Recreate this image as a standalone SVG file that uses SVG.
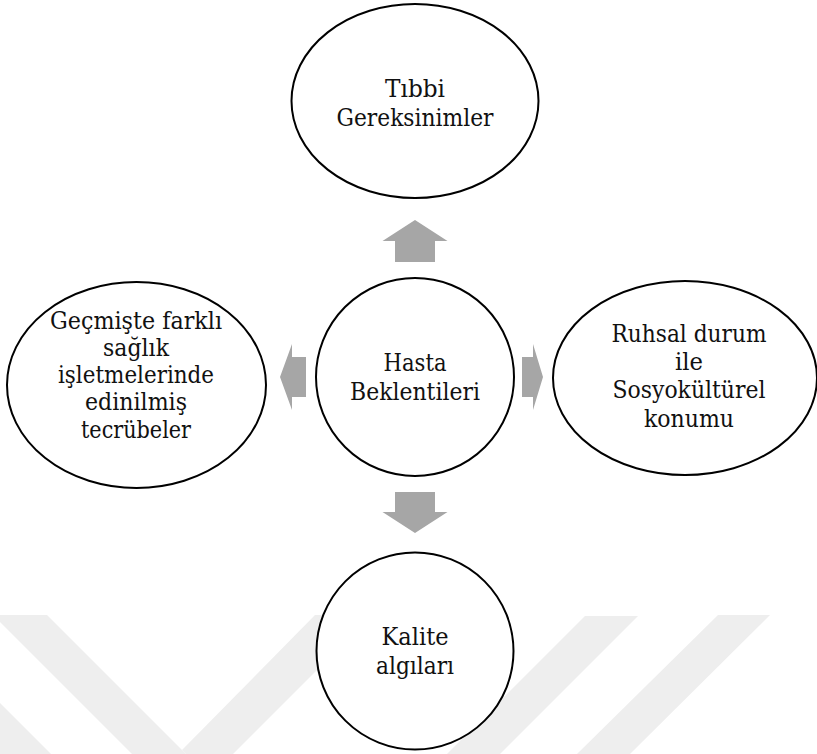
<svg xmlns="http://www.w3.org/2000/svg" width="817" height="754" viewBox="0 0 817 754">
  <style>
    .node { fill: #ffffff; stroke: #000000; stroke-width: 2; }
    .arrow { fill: #a6a6a6; stroke: none; }
    .mark { fill: #eeeeee; stroke: none; }
    .label { font-family: "DejaVu Serif", "Liberation Serif", serif; font-size: 25px; fill: #111111; text-anchor: middle; }
  </style>
  <rect x="0" y="0" width="817" height="754" fill="#ffffff"/>

  <!-- faint background logo bands -->
  <g id="background-mark">
    <polygon class="mark" points="0,615 47,615 182,750 186,754 132,754 0,622"/>
    <polygon class="mark" points="182,750 315,615 372,615 233,754 186,754"/>
    <polygon class="mark" points="0,703 51,754 0,754"/>
    <polygon class="mark" points="585,616 638,616 500,754 447,754"/>
    <polygon class="mark" points="718,615 770,615 630,754 577,754"/>
  </g>

  <!-- block arrows from the centre -->
  <g id="connectors">
    <polygon class="arrow" points="415,220 447.5,241 435,241 435,262 395,262 395,241 382.5,241"/>
    <polygon class="arrow" points="395,492 435,492 435,512 447.5,512 415,533 382.5,512 395,512"/>
    <polygon class="arrow" points="280,377 292,344 292,357 306,357 306,397 292,397 292,410"/>
    <polygon class="arrow" points="543,377 533,344 533,357 522,357 522,397 533,397 533,410"/>
  </g>

  <g id="node-top">
    <ellipse class="node" cx="415" cy="101" rx="123.5" ry="97"/>
    <text class="label" x="415" y="97" textLength="60" lengthAdjust="spacingAndGlyphs">Tıbbi</text>
    <text class="label" x="415" y="126" textLength="157" lengthAdjust="spacingAndGlyphs">Gereksinimler</text>
  </g>

  <g id="node-center">
    <circle class="node" cx="415" cy="377" r="99"/>
    <text class="label" x="415" y="371" textLength="63" lengthAdjust="spacingAndGlyphs">Hasta</text>
    <text class="label" x="415" y="400" textLength="130" lengthAdjust="spacingAndGlyphs">Beklentileri</text>
  </g>

  <g id="node-left">
    <ellipse class="node" cx="136.5" cy="385" rx="129.5" ry="103"/>
    <text class="label" x="136" y="329" textLength="172" lengthAdjust="spacingAndGlyphs">Geçmişte farklı</text>
    <text class="label" x="136" y="356" textLength="66" lengthAdjust="spacingAndGlyphs">sağlık</text>
    <text class="label" x="136" y="383" textLength="156" lengthAdjust="spacingAndGlyphs">işletmelerinde</text>
    <text class="label" x="136" y="410" textLength="102" lengthAdjust="spacingAndGlyphs">edinilmiş</text>
    <text class="label" x="136" y="438" textLength="110" lengthAdjust="spacingAndGlyphs">tecrübeler</text>
  </g>

  <g id="node-right">
    <ellipse class="node" cx="685" cy="378" rx="132" ry="97"/>
    <text class="label" x="689" y="342" textLength="155" lengthAdjust="spacingAndGlyphs">Ruhsal durum</text>
    <text class="label" x="689" y="370" textLength="28" lengthAdjust="spacingAndGlyphs">ile</text>
    <text class="label" x="689" y="398" textLength="153" lengthAdjust="spacingAndGlyphs">Sosyokültürel</text>
    <text class="label" x="689" y="427" textLength="90" lengthAdjust="spacingAndGlyphs">konumu</text>
  </g>

  <g id="node-bottom">
    <circle class="node" cx="415" cy="651" r="98.5"/>
    <text class="label" x="415" y="645" textLength="67" lengthAdjust="spacingAndGlyphs">Kalite</text>
    <text class="label" x="415" y="674" textLength="78" lengthAdjust="spacingAndGlyphs">algıları</text>
  </g>
</svg>
